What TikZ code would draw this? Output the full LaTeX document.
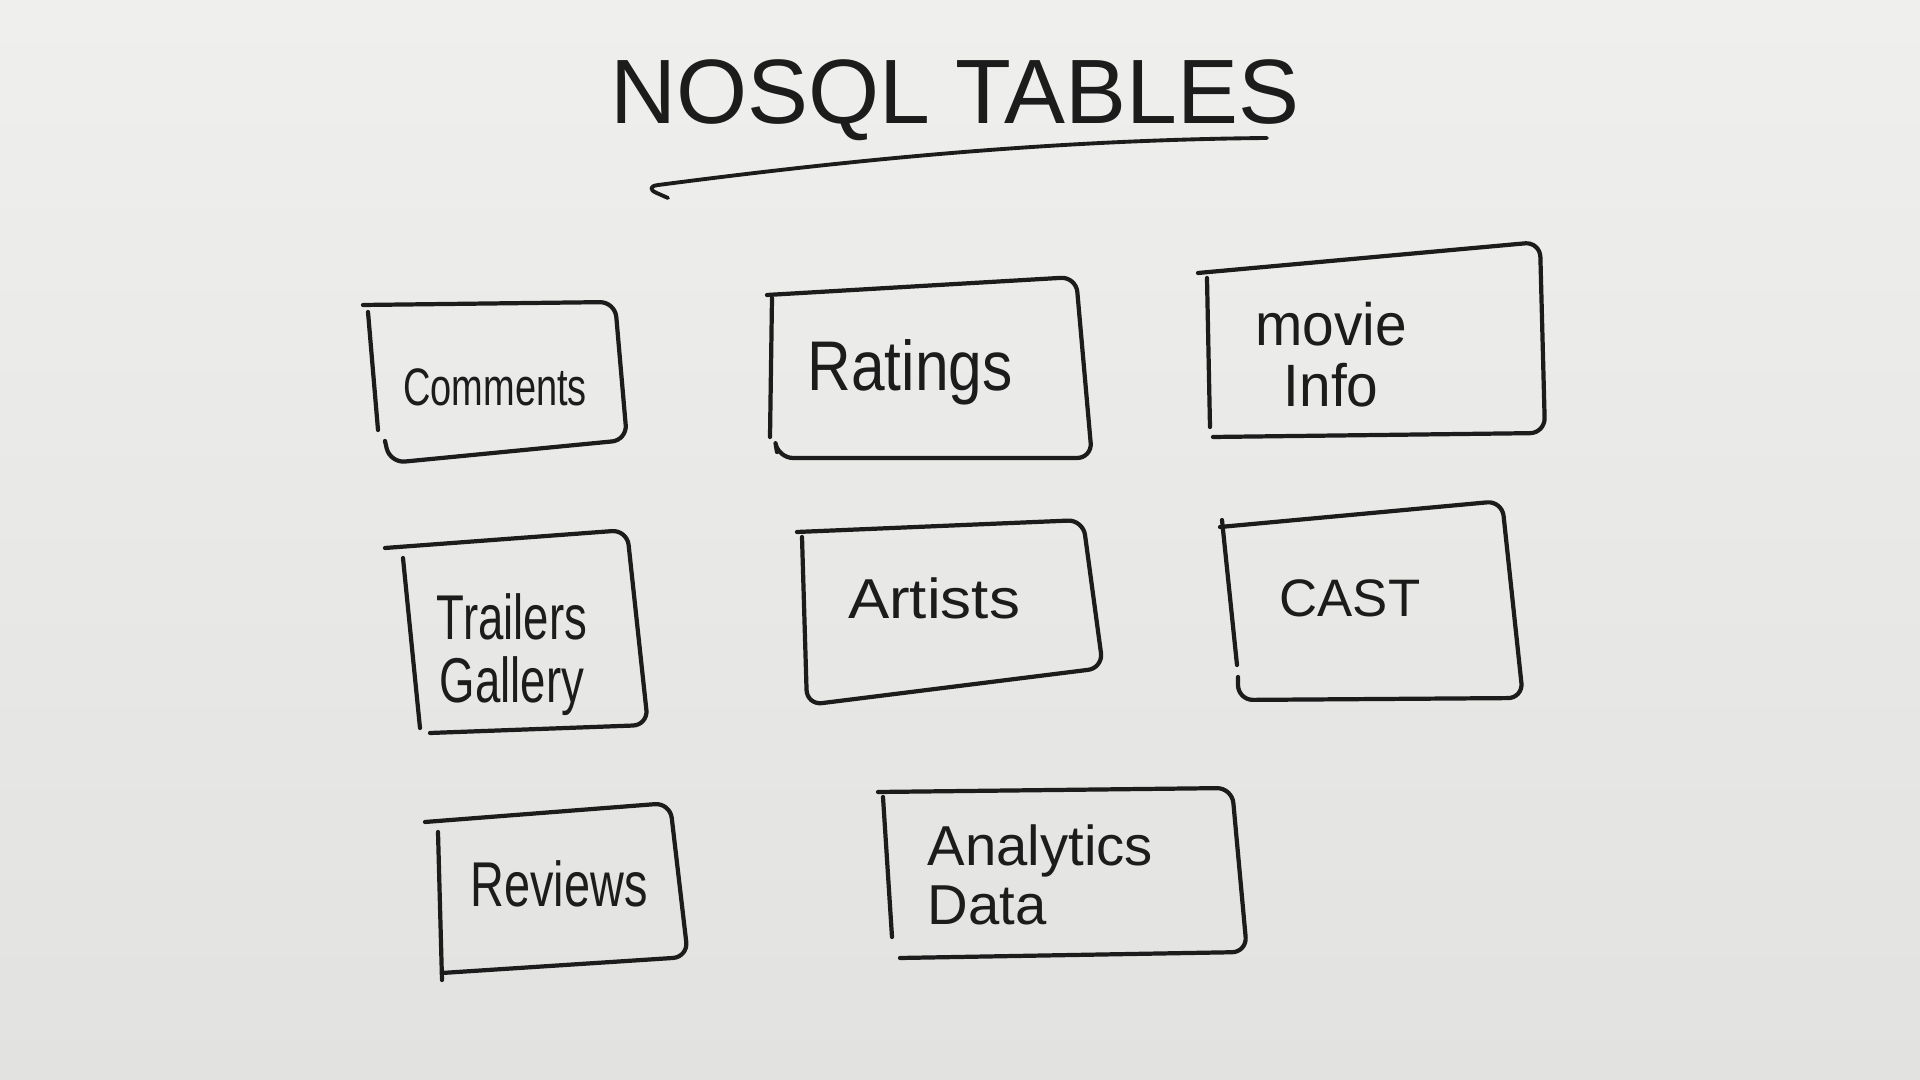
\documentclass[tikz,border=0pt]{standalone}
\usepackage{fontspec}
\setmainfont{Liberation Sans}
\usepackage{graphicx}
\definecolor{ink}{RGB}{28,28,28}
\definecolor{boardtop}{RGB}{239,239,237}
\definecolor{boardmid}{RGB}{245,245,243}
\definecolor{boardbot}{RGB}{226,226,225}
\newcommand\hwtext[3]{\fontsize{#1}{17pt}\selectfont\scalebox{#2}[1]{#3}}
\tikzset{
  pen/.style={draw=ink, line width=1.2pt, line cap=round, line join=round, rounded corners=1.5mm},
  lbl/.style={text=ink, inner sep=0pt},
}
\begin{document}
\begin{tikzpicture}[x=0.01cm, y=-0.01cm]
\useasboundingbox (0,0) rectangle (1920,1080);
\shade[top color=boardtop, middle color=boardmid, bottom color=boardbot] (0,0) rectangle (1920,1080);

% title
\node[lbl, font=\fontsize{26}{30}\selectfont] (title) at (955,100) {NOSQL TABLES};
\coordinate (arrowstart) at (1267,138);
\coordinate (arrowtip) at (643,187);
\coordinate (barb) at (668,198);
\draw[pen, line width=1.1pt] (arrowstart) .. controls (1050,140) and (850,160) .. (arrowtip) -- (barb);

% Comments
\draw[pen] (363,305) -- (615,302) -- (627,440) -- (390,463) -- (385,441);
\draw[pen] (368,312) -- (378,430);
\node[lbl] (comments) at (495,387) {\hwtext{15}{0.72}{Comments}};

% Ratings
\draw[pen] (767,295) -- (1076,277) -- (1092,458) -- (778,458) -- (777,452);
\draw[pen] (772,298) -- (770,437);
\node[lbl] (ratings) at (910,372) {\hwtext{20}{0.86}{Ratings}};

% movie Info
\draw[pen] (1198,273) -- (1540,242) -- (1545,433) -- (1213,437);
\draw[pen] (1207,278) -- (1210,427);
\node[lbl] (movieinfo) at (1331,363) {\hwtext{17}{0.95}{\begin{tabular}{@{}c@{}}movie\\Info\end{tabular}}};

% Trailers Gallery
\draw[pen] (385,548) -- (627,530) -- (648,725) -- (430,733);
\draw[pen] (403,558) -- (420,728);
\node[lbl] (trailers) at (512,657) {\hwtext{18}{0.72}{\begin{tabular}{@{}c@{}}Trailers\\Gallery\end{tabular}}};

% Artists
\draw[pen] (797,532) -- (1083,520) -- (1103,668) -- (807,705) -- (802,537);
\node[lbl] (artists) at (934,598) {\hwtext{16}{1.1}{Artists}};

% CAST
\draw[pen] (1220,527) -- (1502,501) -- (1523,698) -- (1238,700) -- (1238,677);
\draw[pen] (1222,520) -- (1237,665);
\node[lbl] (cast) at (1350,598) {\hwtext{15}{1.0}{CAST}};

% Reviews
\draw[pen] (425,822) -- (670,803) -- (688,957) -- (442,973);
\draw[pen] (438,832) -- (442,980);
\node[lbl] (reviews) at (559,884) {\hwtext{18}{0.74}{Reviews}};

% Analytics Data
\draw[pen] (878,792) -- (1232,788) -- (1247,952) -- (900,958);
\draw[pen] (883,797) -- (892,937);
\node[lbl, anchor=west] (analytics) at (927,883) {\hwtext{16}{1.0}{\begin{tabular}{@{}l@{}}Analytics\\Data\end{tabular}}};
\end{tikzpicture}
\end{document}
